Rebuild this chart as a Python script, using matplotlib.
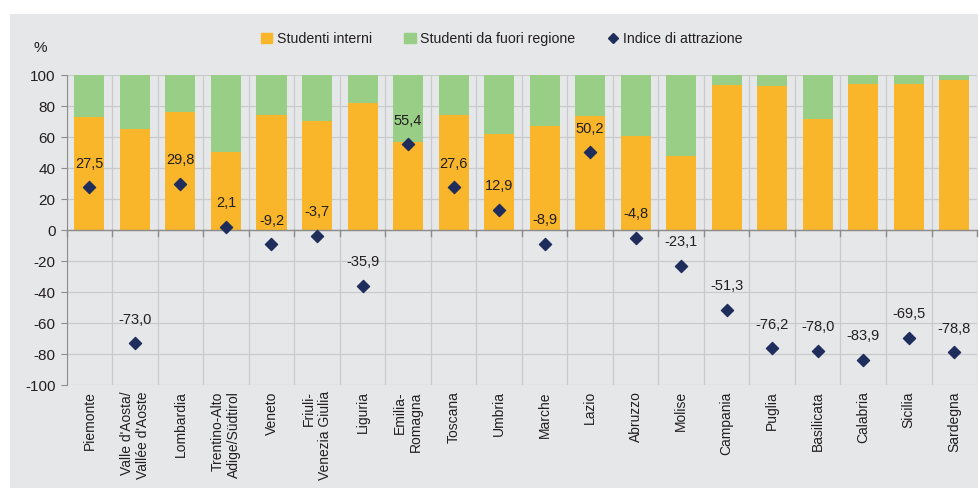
import numpy as np
import matplotlib.pyplot as plt
from matplotlib.patches import Rectangle
from matplotlib.lines import Line2D

plt.rcParams['font.family'] = ['Liberation Sans', 'DejaVu Sans']
plt.rcParams['axes.unicode_minus'] = False

# =====================
# Data
# =====================
regioni = ["Piemonte", "Valle d'Aosta/\nVallée d'Aoste", "Lombardia", "Trentino-Alto\nAdige/Südtirol",
           "Veneto", "Friuli-\nVenezia Giulia", "Liguria", "Emilia-\nRomagna", "Toscana", "Umbria",
           "Marche", "Lazio", "Abruzzo", "Molise", "Campania", "Puglia", "Basilicata", "Calabria",
           "Sicilia", "Sardegna"]
studenti_interni = [72.7, 65.2, 76.3, 50.5, 74.6, 70.1, 81.9, 57.0, 74.2, 61.7,
                    67.5, 73.8, 60.9, 47.5, 93.8, 93.1, 71.6, 94.6, 94.4, 97.0]
studenti_fuori = [100 - v for v in studenti_interni]
indice_attrazione = [27.5, -73.0, 29.8, 2.1, -9.2, -3.7, -35.9, 55.4, 27.6, 12.9,
                     -8.9, 50.2, -4.8, -23.1, -51.3, -76.2, -78.0, -83.9, -69.5, -78.8]
etichette_indice = ["27,5", "-73,0", "29,8", "2,1", "-9,2", "-3,7", "-35,9", "55,4", "27,6", "12,9",
                    "-8,9", "50,2", "-4,8", "-23,1", "-51,3", "-76,2", "-78,0", "-83,9", "-69,5", "-78,8"]

ORANGE = "#F9B62A"
GREEN = "#99CE86"
NAVY = "#1E2D5C"
BG = "#E6E7E8"
GRID = "#C9CACC"
TXT = "#231F20"

fig = plt.figure(figsize=(9.8, 4.88), dpi=100, facecolor="white")
fig.patches.append(Rectangle((10 / 980, 0), 968 / 980, 1 - 14 / 488, transform=fig.transFigure,
                             facecolor=BG, edgecolor="none", zorder=-10))
ax = fig.add_axes([0.068, 0.211, 0.929, 0.635])
ax.set_facecolor(BG)

x = np.arange(len(regioni))
ax.bar(x, studenti_interni, width=0.66, color=ORANGE, zorder=2)
ax.bar(x, studenti_fuori, width=0.66, bottom=studenti_interni, color=GREEN, zorder=2)
ax.scatter(x, indice_attrazione, marker="D", s=38, color=NAVY, zorder=4)
for xi, yi, lab in zip(x, indice_attrazione, etichette_indice):
    ax.annotate(lab, (xi, yi), xytext=(0, 17), textcoords="offset points",
                ha="center", va="center", fontsize=10.5, color=TXT, zorder=5)

ax.set_xlim(-0.5, len(regioni) - 0.5)
ax.set_ylim(-100, 100)
ax.set_yticks(np.arange(-100, 101, 20))
ax.tick_params(axis="y", labelsize=11, colors=TXT, length=4, color="#8C8C8C", pad=4)
ax.yaxis.grid(True, color=GRID, linewidth=0.9, zorder=0)
ax.set_xticks(np.arange(-0.5, len(regioni), 1), minor=True)
ax.xaxis.grid(True, which="minor", color=GRID, linewidth=0.9, zorder=0)
ax.set_xticks(x)
ax.set_xticklabels([])
ax.tick_params(axis="x", which="both", length=0)
ax.set_axisbelow(True)

for s in ["top", "right", "bottom"]:
    ax.spines[s].set_visible(False)
ax.spines["left"].set_color("#8C8C8C")
ax.axhline(0, color="#8C8C8C", linewidth=1.0, zorder=3)
for b in np.arange(-0.5, len(regioni), 1):
    ax.plot([b, b], [0, -3.5], color="#8C8C8C", linewidth=1.0, zorder=3, clip_on=False)

# category labels, rotated
for xi, lab in zip(x, regioni):
    ax.text(xi, -104, lab, rotation=90, ha="center", va="top", multialignment="right",
            fontsize=10, color=TXT, transform=ax.transData, clip_on=False)

fig.text(40 / 980, 1 - 48 / 488, "%", ha="center", va="center", fontsize=11, color=TXT)

handles = [Rectangle((0, 0), 1, 1, color=ORANGE), Rectangle((0, 0), 1, 1, color=GREEN),
           Line2D([], [], marker="D", linestyle="none", color=NAVY, markersize=5)]
fig.legend(handles, ["Studenti interni", "Studenti da fuori regione", "Indice di attrazione"],
           loc="center", bbox_to_anchor=(0.512, 1 - 39 / 488), ncol=3, frameon=False,
           fontsize=10.2, handlelength=0.8, handleheight=0.8, handletextpad=0.3, columnspacing=2.3,
           labelcolor=TXT)

fig.savefig("out.png", dpi=100, facecolor="white")
